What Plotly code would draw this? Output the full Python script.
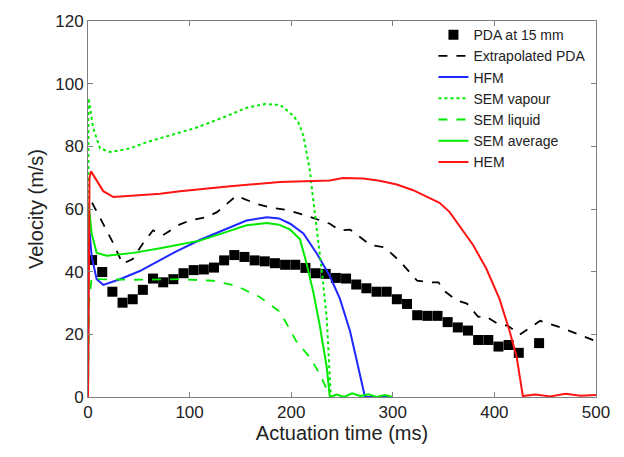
import plotly.graph_objects as go

# PDA at 15 mm (measured points)
pda_t = [4, 14, 24, 34, 44, 54, 64, 74, 84, 94, 104, 114, 124, 134, 144, 154, 164, 174, 184, 194,
         204, 214, 224, 234, 244, 254, 264, 274, 284, 294, 304, 314, 324, 334, 344, 354, 364, 374,
         384, 394, 404, 414, 424, 444]
pda_v = [43.7, 39.9, 33.6, 30.1, 31.2, 34.2, 37.8, 36.6, 37.6, 39.5, 40.5, 40.7, 41.3, 43.6, 45.3,
         44.7, 43.6, 43.3, 42.7, 42.2, 42.2, 41.2, 39.5, 39.3, 38.0, 37.8, 35.9, 34.7, 33.6, 33.6,
         31.2, 29.7, 26.1, 25.9, 25.9, 23.9, 22.2, 21.2, 18.2, 18.2, 16.1, 16.6, 14.1, 17.2]

# Extrapolated PDA
ext_t = [4, 15, 25, 34, 44, 54, 64, 74, 90, 100, 117, 127, 137, 146, 166, 179, 196, 215, 238, 248,
         258, 278, 292, 307, 324, 337, 345, 350, 363, 373, 384, 391, 405, 413, 425, 445, 465, 500]
ext_v = [62.0, 55.3, 49.0, 42.5, 44.0, 49.0, 53.2, 51.7, 55.0, 56.3, 57.4, 59.0, 61.6, 64.2, 61.6,
         60.5, 59.7, 57.9, 55.3, 53.2, 53.4, 48.5, 47.8, 43.3, 37.1, 36.6, 36.6, 34.0, 30.8, 29.8,
         25.6, 25.8, 23.0, 22.8, 19.9, 24.3, 22.2, 17.8]

# HFM
hfm_t = [0, 0.5, 3.6, 8.5, 15, 31.5, 51, 71, 87, 110, 136.5, 156, 176, 188, 199, 212, 225, 238,
         248, 258, 266, 272.6, 280, 290, 300]
hfm_v = [0, 57, 44.9, 37.6, 35.8, 37.6, 40.2, 43.8, 46.5, 50.1, 53.8, 56.3, 57.4, 57.0, 55.3, 52.2,
         45.9, 38.6, 31.3, 20.9, 9.5, 0, 0, 0, 0]

# SEM vapour
vap_t = [0, 0.5, 5, 11.8, 21.7, 41, 57.7, 80.7, 107, 133, 156, 174, 189, 197, 202, 207, 212, 215,
         218.5, 221, 224.4, 230, 235, 238, 239]
vap_v = [0, 95.4, 86, 79.3, 78.2, 79.3, 81.3, 83.4, 86.0, 89.2, 92.3, 93.5, 93.2, 91.2, 89.8, 87.6,
         83.4, 78.2, 72.0, 64.7, 56.3, 40.7, 25.1, 4.3, 0]

# SEM liquid
liq_t = [0, 1, 3.6, 11.8, 41, 90.5, 123, 146, 169, 189, 205, 218.5, 228, 238]
liq_v = [0, 30, 38.1, 37.6, 37.4, 37.6, 37.1, 35.5, 31.9, 27.2, 17.8, 12.6, 7.4, 0.3]

# SEM average
avg_t = [0, 0.5, 3.6, 8.5, 18.4, 44.6, 71, 110, 136.5, 156, 176, 188, 199, 208.7, 215, 221.8, 228,
         235, 238, 245, 252, 260, 268, 276, 284, 292, 300]
avg_v = [0, 62, 52.2, 46.0, 45.1, 46.0, 47.5, 49.9, 52.7, 54.8, 55.5, 55.0, 53.4, 50.3, 42.8, 33.4,
         23.0, 9.5, 0, 0.8, 0, 1.2, 0.3, 0.9, 0, 0.6, 0]

# HEM
hem_t = [0, 1.5, 3, 6.9, 15, 25, 41, 71, 90.5, 140, 189, 238, 251, 271, 287, 304, 320, 336, 346,
         356, 366, 379, 392, 405, 415, 422, 428, 440, 455, 470, 485, 500]
hem_v = [0, 70, 72.0, 69.9, 65.7, 63.8, 64.2, 64.9, 65.7, 67.3, 68.6, 69.1, 69.9, 69.7, 69.0, 67.8,
         66.0, 63.7, 62.0, 59.0, 54.5, 48.5, 41.0, 31.3, 21.0, 12.6, 0.3, 0.8, 0.2, 1.0, 0.4, 0.6]

x_ticks = [0, 100, 200, 300, 400, 500]
y_ticks = [0, 20, 40, 60, 80, 100, 120]

GREEN = "rgb(0,235,0)"
FONT = "Arial, Liberation Sans, sans-serif"

fig = go.Figure()
fig.add_trace(go.Scatter(x=pda_t, y=pda_v, mode="markers", name="PDA at 15 mm",
                         marker=dict(symbol="square", size=10, color="black")))
fig.add_trace(go.Scatter(x=ext_t, y=ext_v, mode="lines", name="Extrapolated PDA",
                         line=dict(color="black", width=1.8, dash="dash")))
fig.add_trace(go.Scatter(x=hfm_t, y=hfm_v, mode="lines", name="HFM",
                         line=dict(color="rgb(30,40,255)", width=2)))
fig.add_trace(go.Scatter(x=vap_t, y=vap_v, mode="lines", name="SEM vapour",
                         line=dict(color=GREEN, width=2, dash="dot")))
fig.add_trace(go.Scatter(x=liq_t, y=liq_v, mode="lines", name="SEM liquid",
                         line=dict(color=GREEN, width=1.8, dash="dash")))
fig.add_trace(go.Scatter(x=avg_t, y=avg_v, mode="lines", name="SEM average",
                         line=dict(color=GREEN, width=2)))
fig.add_trace(go.Scatter(x=hem_t, y=hem_v, mode="lines", name="HEM",
                         line=dict(color="rgb(255,20,20)", width=2)))

axis_common = dict(showgrid=False, zeroline=False, showline=True, linecolor="#7f7f7f",
                   linewidth=1, mirror="ticks", ticks="inside", ticklen=5, tickcolor="#7f7f7f",
                   tickfont=dict(family=FONT, size=17, color="#222"))

fig.update_layout(
    width=624, height=457,
    margin=dict(l=88, r=28, t=13, b=60),
    paper_bgcolor="white", plot_bgcolor="white",
    showlegend=True,
    legend=dict(x=0.68, y=1.005, xanchor="left", yanchor="top", bgcolor="rgba(0,0,0,0)",
                font=dict(family=FONT, size=14, color="#222"), tracegroupgap=0),
    xaxis=dict(range=[0, 500], tickvals=x_ticks,
               title=dict(text="Actuation time (ms)", font=dict(family=FONT, size=20, color="#222"),
                          standoff=4),
               **axis_common),
    yaxis=dict(range=[0, 120], tickvals=y_ticks,
               title=dict(text="Velocity (m/s)", font=dict(family=FONT, size=20, color="#222"),
                          standoff=6),
               **axis_common),
)

fig.write_html("out.html")
